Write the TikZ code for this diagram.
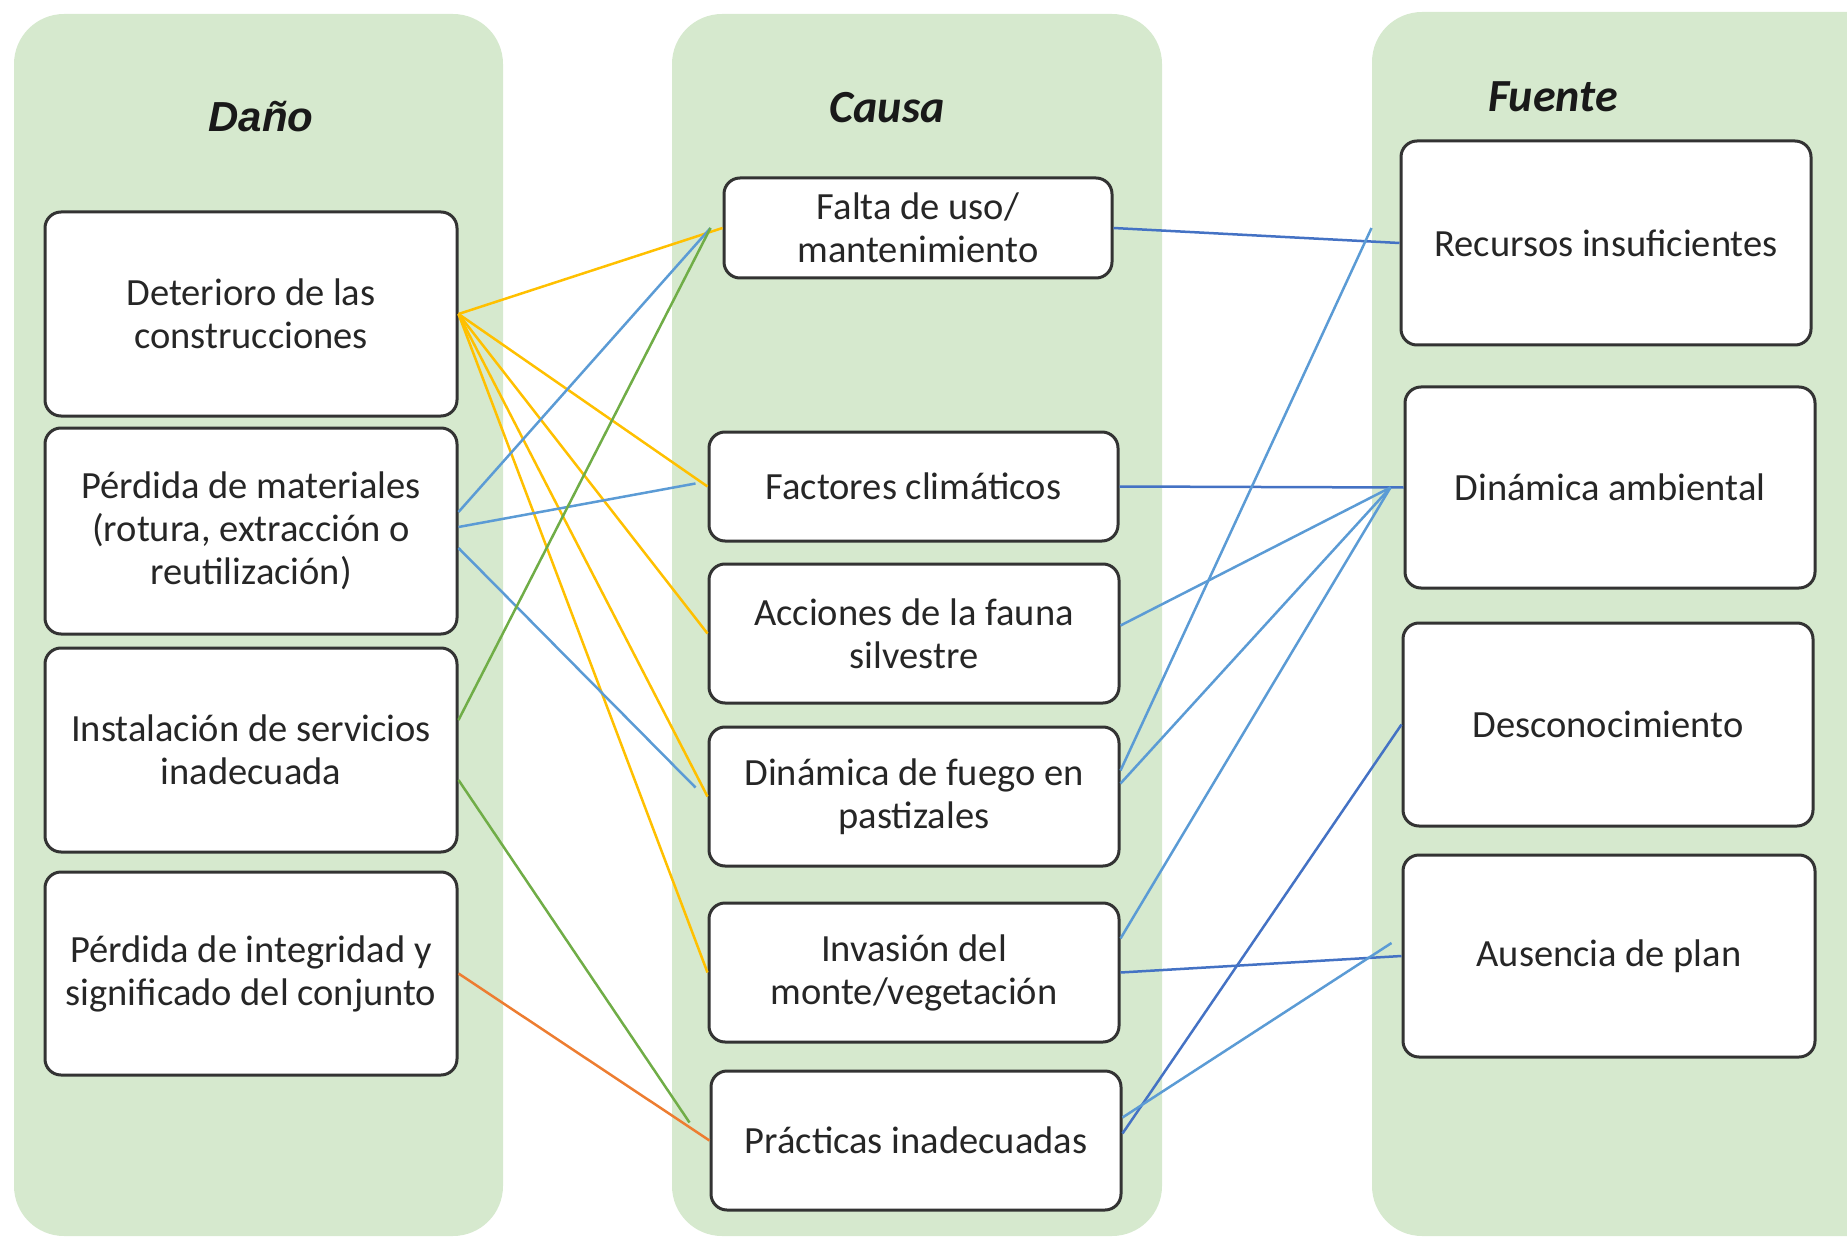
\documentclass[tikz,border=0pt]{standalone}
\usepackage{fontspec}
\setmainfont{Carlito}
\newfontfamily\arialf{Liberation Sans}
\definecolor{colfill}{RGB}{214,233,206}
\definecolor{yel}{RGB}{255,192,0}
\definecolor{bluel}{RGB}{91,155,213}
\definecolor{blued}{RGB}{68,114,196}
\definecolor{grn}{RGB}{112,173,71}
\definecolor{org}{RGB}{237,125,49}
\begin{document}
\begin{tikzpicture}[x=1pt,y=-1pt,
  colbg/.style={fill=colfill, rounded corners=50pt},
  boxn/.style={draw=black!80, line width=3pt, fill=white, rounded corners=16pt,
    align=center, inner sep=0pt, font=\fontsize{38.5}{43}\selectfont, text=black!85},
  ttl/.style={anchor=base, inner sep=0pt, text=black!90},
  conn/.style={line width=2.5pt},
  cy/.style={conn, draw=yel},
  cbl/.style={conn, draw=bluel},
  cbd/.style={conn, draw=blued},
  cg/.style={conn, draw=grn},
  co/.style={conn, draw=org}]
\useasboundingbox (0,0) rectangle (1847,1238);
\begin{scope}
\clip (0,0) rectangle (1847,1238);
\fill[colbg] (14,14) rectangle (503,1236);
\fill[colbg] (672,14) rectangle (1162,1236);
\fill[colbg] (1372,12) rectangle (1900,1236);
\end{scope}

% titles
\node[ttl, font=\arialf\bfseries\itshape\fontsize{42}{48}\selectfont] (tdano) at (261,132) {Daño};
\node[ttl, font=\bfseries\itshape\fontsize{46}{52}\selectfont] (tcausa) at (887,123) {Causa};
\node[ttl, font=\bfseries\itshape\fontsize{46}{52}\selectfont] (tfuente) at (1553,112) {Fuente};

% column 1
\node[boxn, minimum width=412pt, minimum height=204pt] (det) at (251,314) {Deterioro de las\\construcciones};
\node[boxn, minimum width=412pt, minimum height=206pt] (mat) at (251,531) {Pérdida de materiales\\(rotura, extracción o\\reutilización)};
\node[boxn, minimum width=412pt, minimum height=204pt] (ins) at (251,750) {Instalación de servicios\\inadecuada};
\node[boxn, minimum width=412pt, minimum height=203pt] (int) at (251,973.5) {Pérdida de integridad y\\significado del conjunto};

% column 2
\node[boxn, minimum width=388pt, minimum height=100pt] (falta) at (918,228) {Falta de uso/\\mantenimiento};
\node[boxn, minimum width=409pt, minimum height=109pt] (fact) at (913.5,486.5) {Factores climáticos};
\node[boxn, minimum width=410pt, minimum height=139pt] (acc) at (914,633.5) {Acciones de la fauna\\silvestre};
\node[boxn, minimum width=410pt, minimum height=139pt] (fuego) at (914,796.5) {Dinámica de fuego en\\pastizales};
\node[boxn, minimum width=410pt, minimum height=139pt] (inv) at (914,972.5) {Invasión del\\monte/vegetación};
\node[boxn, minimum width=410pt, minimum height=139pt] (prac) at (916,1140.5) {Prácticas inadecuadas};

% column 3
\node[boxn, minimum width=410pt, minimum height=204pt] (rec) at (1606,243) {Recursos insuficientes};
\node[boxn, minimum width=410pt, minimum height=201pt] (da) at (1610,487.5) {Dinámica ambiental};
\node[boxn, minimum width=410pt, minimum height=203pt] (des) at (1608,724.5) {Desconocimiento};
\node[boxn, minimum width=412pt, minimum height=202pt] (aus) at (1609,956) {Ausencia de plan};

% left connectors
\draw[cy] (det.east) -- (falta.west);
\draw[cy] (det.east) -- (fact.west);
\draw[cy] (det.east) -- (acc.west);
\draw[cy] (det.east) -- (fuego.west);
\draw[cy] (det.east) -- (inv.west);
\draw[cbl] ([yshift=19pt]mat.east) -- ([xshift=-12pt]falta.west);
\draw[cbl] ([yshift=4pt]mat.east) -- ([xshift=-12pt,yshift=3pt]fact.west);
\draw[cbl] ([yshift=-17pt]mat.east) -- ([xshift=-12pt,yshift=9pt]fuego.west);
\draw[cg] ([yshift=30pt]ins.east) -- ([xshift=-12pt]falta.west);
\draw[cg] ([yshift=-30pt]ins.east) -- ([xshift=-20pt,yshift=18pt]prac.west);
\draw[co] (int.east) -- (prac.west);

% right connectors
\draw[cbd] (falta.east) -- (rec.west);
\draw[cbd] (fact.east) -- (da.west);
\draw[cbl] ([yshift=8pt]acc.east) -- ([xshift=-13pt]da.west);
\draw[cbl] ([yshift=26pt]fuego.east) -- ([xshift=-28pt,yshift=15pt]rec.west);
\draw[cbl] ([yshift=13pt]fuego.east) -- ([xshift=-13pt]da.west);
\draw[cbl] ([yshift=34pt]inv.east) -- ([xshift=-13pt]da.west);
\draw[cbd] (inv.east) -- (aus.west);
\draw[cbd] ([yshift=7pt]prac.east) -- (des.west);
\draw[cbl] ([yshift=23pt]prac.east) -- ([xshift=-10pt,yshift=13pt]aus.west);
\end{tikzpicture}
\end{document}
